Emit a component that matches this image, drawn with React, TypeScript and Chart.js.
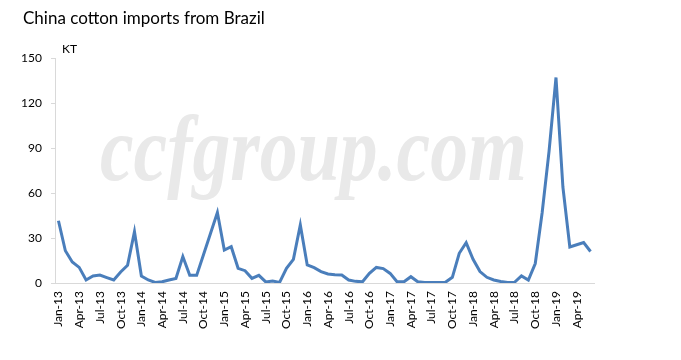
import React, { useEffect, useRef } from "react";
import { Chart, registerables } from "chart.js";

Chart.register(...registerables);

const MONTHS = ["Jan", "Feb", "Mar", "Apr", "May", "Jun", "Jul", "Aug", "Sep", "Oct", "Nov", "Dec"];
const YEARS = [13, 14, 15, 16, 17, 18, 19];

const values2013 = [41.5, 21.5, 14, 10.4, 2, 4.7, 5.3, 3.6, 2, 7.3, 11.8, 34.2];
const values2014 = [4.7, 2, 0.4, 0.8, 2, 3, 17.6, 5.1, 5.1, 19, 33, 47];
const values2015 = [22, 24.2, 9.8, 8.2, 3.1, 5.1, 0.7, 1.3, 0.4, 9.8, 15.8, 38.7];
const values2016 = [12, 10.2, 7.6, 6, 5.5, 5.3, 2, 1.1, 0.8, 6.4, 10.4, 9.6];
const values2017 = [6.4, 0.8, 0.8, 4.2, 0.8, 0.3, 0.3, 0.3, 0.5, 3.8, 19.8, 26.9];
const values2018 = [15.8, 7.6, 3.8, 2, 1, 0.3, 0.5, 4.7, 2, 13, 47, 88];
const values2019 = [137, 64, 24, 25.5, 27, 21];

const imports = [
  ...values2013, ...values2014, ...values2015, ...values2016,
  ...values2017, ...values2018, ...values2019,
];

const categories: string[] = [];
YEARS.forEach((y) => MONTHS.forEach((m) => categories.push(`${m}-${y}`)));
categories.length = imports.length;

const yTicks = [0, 30, 60, 90, 120, 150];
const TITLE = "China cotton imports from Brazil";
const UNIT = "KT";
const WATERMARK = "ccfgroup.com";

const FONT = "Lato, 'Open Sans', sans-serif";
const WM_FONT = "'Liberation Serif', 'DejaVu Serif', serif";

const decorPlugin = {
  id: "decor",
  beforeDatasetsDraw(chart: any) {
    const ctx = chart.ctx;
    ctx.save();
    ctx.fillStyle = "#e9e9e9";
    ctx.font = `italic bold 94px ${WM_FONT}`;
    const w = ctx.measureText(WATERMARK).width;
    ctx.textBaseline = "alphabetic";
    ctx.textAlign = "left";
    ctx.translate(100, 180);
    ctx.scale(427 / w, 1);
    ctx.fillText(WATERMARK, 0, 0);
    ctx.restore();
  },
  afterDraw(chart: any) {
    const ctx = chart.ctx;
    ctx.save();
    ctx.fillStyle = "#000000";
    ctx.textBaseline = "top";
    ctx.textAlign = "left";
    ctx.font = `17px ${FONT}`;
    ctx.fillText(TITLE, 23, 10);
    ctx.font = `12px ${FONT}`;
    ctx.fillText(UNIT, 62, 43);
    ctx.restore();
  },
};

export default function App() {
  const ref = useRef<HTMLCanvasElement | null>(null);
  useEffect(() => {
    if (!ref.current) return;
    const chart = new Chart(ref.current, {
      type: "line",
      data: {
        labels: categories,
        datasets: [
          {
            data: imports,
            borderColor: "#4a7ebb",
            borderWidth: 3,
            pointRadius: 0,
            tension: 0,
            fill: false,
          },
        ],
      },
      options: {
        animation: false,
        responsive: false,
        maintainAspectRatio: false,
        layout: { padding: { left: 0, right: 87, top: 58, bottom: 0 } },
        plugins: { legend: { display: false }, tooltip: { enabled: false }, title: { display: false } },
        scales: {
          x: {
            type: "category",
            offset: true,
            grid: { display: false, drawTicks: false },
            border: { display: true, color: "#d9d9d9", width: 1 },
            afterFit: (s: any) => { s.height = 77; },
            ticks: {
              autoSkip: false,
              maxRotation: 90,
              minRotation: 90,
              padding: 8,
              color: "#000000",
              font: { family: FONT, size: 12 },
              callback: (_v: any, i: number) => (i % 3 === 0 ? categories[i] : ""),
            },
          },
          y: {
            min: 0,
            max: 150,
            afterBuildTicks: (s: any) => { s.ticks = yTicks.map((v) => ({ value: v })); },
            afterFit: (s: any) => { s.width = 55; },
            grid: { display: true, drawOnChartArea: false, drawTicks: true, tickLength: 4, color: "#d9d9d9" },
            border: { display: true, color: "#d9d9d9", width: 1 },
            ticks: {
              padding: 9,
              color: "#000000",
              font: { family: FONT, size: 12 },
            },
          },
        },
      },
      plugins: [decorPlugin],
    });
    return () => chart.destroy();
  }, []);
  return (
    <div style={{ position: "fixed", left: 0, top: 0, width: 681, height: 360, background: "#ffffff" }}>
      <canvas ref={ref} width={681} height={360} style={{ width: 681, height: 360 }} />
    </div>
  );
}
